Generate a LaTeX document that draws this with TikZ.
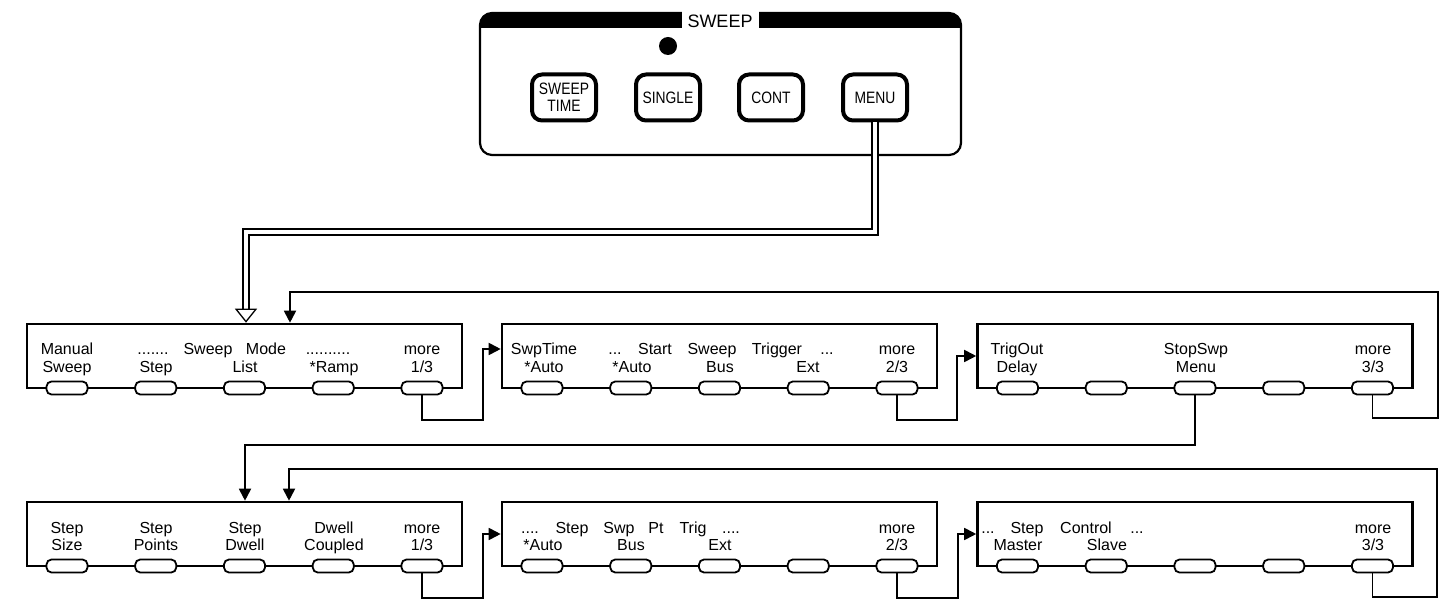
\documentclass[tikz,border=0pt]{standalone}
\usepackage{fontspec}
\setmainfont{Liberation Sans}
\newfontfamily\condfont[FakeStretch=0.84]{Liberation Sans}
\usetikzlibrary{arrows.meta}
\newcommand\mkmenu[3]{%
  \node[menubox] (#1) at (#2,#3+32) {};
  \foreach \i/\dx in {1/-177.5,2/-88.75,3/0,4/88.75,5/177.5}
    {\node[softkey] (#1k\i) at (#2+\dx,#3+64) {};}
}
\begin{document}
\begin{tikzpicture}[x=1pt,y=-1pt,
  menubox/.style={draw, line width=2.6pt, minimum width=435pt, minimum height=64pt, inner sep=0pt},
  softkey/.style={draw, fill=white, line width=1.8pt, rounded corners=5pt, minimum width=41pt, minimum height=13pt, inner sep=0pt},
  pbtn/.style={draw, fill=white, line width=4pt, rounded corners=10pt, minimum width=64pt, minimum height=46pt, inner sep=0pt, align=center, font=\condfont\fontsize{16.5}{17}\selectfont},
  lbl/.style={anchor=base, inner sep=0pt, font=\fontsize{16}{19}\selectfont},
  conn/.style={line width=1.8pt},
  tip/.style={-{Triangle[length=12pt,width=12pt]}}]
\useasboundingbox (0,0) rectangle (1452,601);

% ---- front panel ----
\begin{scope}
  \clip[rounded corners=12pt] (480,13) rectangle (961,155);
  \fill (470,0) rectangle (970,28);
\end{scope}
\draw[line width=2.2pt, rounded corners=12pt] (480,13) rectangle (961,155);
\node[fill=white, inner xsep=6pt, inner ysep=0pt, minimum height=20pt, font=\fontsize{18}{20}\selectfont] (hdr) at (720,21.5) {SWEEP};
\node[circle, fill, minimum size=18pt, inner sep=0pt] (led) at (668,46) {};
\node[pbtn] (swt) at (564,97.5) {SWEEP\\TIME};
\node[pbtn] (sgl) at (668,97.5) {SINGLE};
\node[pbtn] (cnt) at (771,97.5) {CONT};
\node[pbtn] (menu) at (875,97.5) {MENU};

% ---- menu boxes ----
\mkmenu{A1}{244.5}{324}
\mkmenu{A2}{719.5}{324}
\mkmenu{A3}{1195}{324}
\mkmenu{B1}{244.5}{502}
\mkmenu{B2}{719.5}{502}
\mkmenu{B3}{1195}{502}

% ---- labels ----
\foreach \x/\y/\t [count=\n] in {
  67/355/Manual, 67/373/Sweep,
  153/355/{.......}, 208/355/Sweep, 266/355/Mode, 328/355/{..........},
  156/373/Step, 245/373/List, 334/373/{*Ramp},
  422/355/more, 422/373/{1/3},
  544/355/SwpTime, 544/373/{*Auto},
  615/355/{...}, 655/355/Start, 712/355/Sweep, 777/355/Trigger, 827/355/{...},
  632/373/{*Auto}, 720/373/Bus, 808/373/Ext,
  897/355/more, 897/373/{2/3},
  1017/355/TrigOut, 1017/373/Delay,
  1196/355/StopSwp, 1196/373/Menu,
  1373/355/more, 1373/373/{3/3},
  67/533/Step, 67/550/Size,
  156/533/Step, 156/550/Points,
  245/533/Step, 245/550/Dwell,
  334/533/Dwell, 334/550/Coupled,
  422/533/more, 422/550/{1/3},
  530/533/{....}, 572/533/Step, 619/533/Swp, 656/533/Pt, 693/533/Trig, 731/533/{....},
  543/550/{*Auto}, 631/550/Bus, 720/550/Ext,
  897/533/more, 897/550/{2/3},
  988/533/{...}, 1027/533/Step, 1086/533/Control, 1137/533/{...},
  1018/550/Master, 1107/550/Slave,
  1373/533/more, 1373/550/{3/3}}
  {\node[lbl] (lab\n) at (\x,\y) {\t};}

% ---- connectors ----
\coordinate (m1) at (246,232);
\coordinate (m2) at (246,310);
\draw[line width=1.3pt, double=white, double distance=4.5pt] (menu.south) |- (m1) -- (m2);
\draw[line width=1.3pt, -{Triangle[open,length=14pt,width=22pt]}] (m2) -- (m2 |- A1.north);

\coordinate (j1) at (483,420);
\draw[conn,tip] (A1k5.south) |- (j1) |- ([yshift=7pt]A2.west);
\coordinate (j2) at (957,420);
\draw[conn,tip] (A2k5.south) |- (j2) |- (A3.west);
\coordinate (j3) at (1438,418);
\coordinate (j4) at (290,292);
\draw[conn,tip] (A3k5.south) |- (j3) |- (j4) -- (j4 |- A1.north);
\coordinate (j5) at (245,445);
\draw[conn,tip] (A3k3.south) |- (j5) -- (j5 |- B1.north);
\coordinate (j6) at (483,598);
\draw[conn,tip] (B1k5.south) |- (j6) |- (B2.west);
\coordinate (j7) at (958,598);
\draw[conn,tip] (B2k5.south) |- (j7) |- (B3.west);
\coordinate (j8) at (1437,597);
\coordinate (j9) at (289,469);
\draw[conn,tip] (B3k5.south) |- (j8) |- (j9) -- (j9 |- B1.north);
\end{tikzpicture}
\end{document}
